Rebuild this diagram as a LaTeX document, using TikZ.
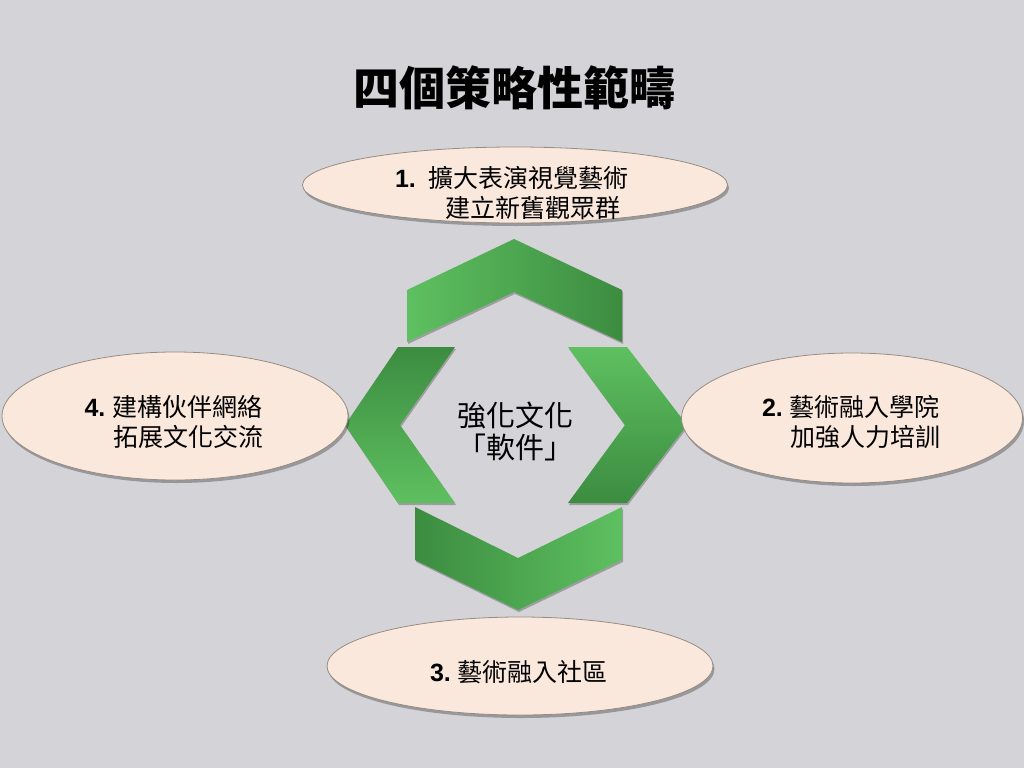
\documentclass[tikz,border=0pt]{standalone}
\usepackage{fontspec}
\setmainfont{Noto Sans CJK TC}
\newfontfamily\numfont{Liberation Sans}
\usetikzlibrary{shapes.geometric, shadows}
\definecolor{slidegray}{RGB}{212, 212, 216}
\definecolor{ellipsefill}{RGB}{251, 232, 220}
\definecolor{ellipseedge}{RGB}{150, 140, 132}
\definecolor{greenlight}{RGB}{94, 192, 96}
\definecolor{greendark}{RGB}{60, 140, 64}
\newcommand{\itemnum}[1]{{\numfont\bfseries #1}}

\begin{document}
\begin{tikzpicture}[
    x=1pt, y=-1pt,
    font=\fontsize{25}{30}\selectfont,
    % Styles
    areabox/.style 2 args={ellipse, draw=ellipseedge, fill=ellipsefill, line width=0.8pt, minimum width=#1pt, minimum height=#2pt, inner sep=0pt, drop shadow={shadow xshift=1.5pt, shadow yshift=-3pt, fill=black, opacity=0.28}},
    areatext/.style={align=left, inner sep=0pt, text=black},
    chevron/.style={drop shadow={shadow xshift=1pt, shadow yshift=-2pt, fill=black, opacity=0.25}}
]
    \useasboundingbox [fill=slidegray] (0,0) rectangle (1024,768);

    % Title
    \node (title) at (514,88) {\fontsize{46}{52}\selectfont\bfseries 四個策略性範疇};

    % Chevrons
    \path [chevron, left color=greenlight, right color=greendark]
        (407,290) -- (514,239) -- (622,290) -- (622,342) -- (514,292) -- (407,342) -- cycle;
    \path [chevron, top color=greenlight, bottom color=greendark]
        (568,347) -- (627,347) -- (687,425) -- (627,503) -- (568,503) -- (625,425) -- cycle;
    \path [chevron, left color=greendark, right color=greenlight]
        (415,507) -- (518,558) -- (622,507) -- (622,560) -- (518,610) -- (415,560) -- cycle;
    \path [chevron, top color=greendark, bottom color=greenlight]
        (398,347) -- (455,347) -- (400,425) -- (455,503) -- (398,503) -- (345,425) -- cycle;

    % Centre
    \node (core) [align=center, font=\fontsize{29}{32}\selectfont] at (515,431) {強化文化\\「軟件」};

    % Area 1
    \node (e1) [areabox={425}{76}] at (515,185) {};
    \node (t1) [areatext] at (512,193) {\itemnum{1.}\hspace{13pt}擴大表演視覺藝術\\\hspace*{50pt}建立新舊觀眾群};

    % Area 2
    \node (e2) [areabox={341}{130}] at (852,418) {};
    \node (t2) [areatext] at (851,422) {\itemnum{2.}\hspace{7pt}藝術融入學院\\\hspace*{28pt}加強人力培訓};

    % Area 3
    \node (e3) [areabox={386}{98}] at (520,666) {};
    \node (t3) [areatext] at (519,672) {\itemnum{3.}\hspace{7pt}藝術融入社區};

    % Area 4
    \node (e4) [areabox={346}{128}] at (175,416) {};
    \node (t4) [areatext] at (174,422) {\itemnum{4.}\hspace{7pt}建構伙伴網絡\\\hspace*{29pt}拓展文化交流};

\end{tikzpicture}
\end{document}
